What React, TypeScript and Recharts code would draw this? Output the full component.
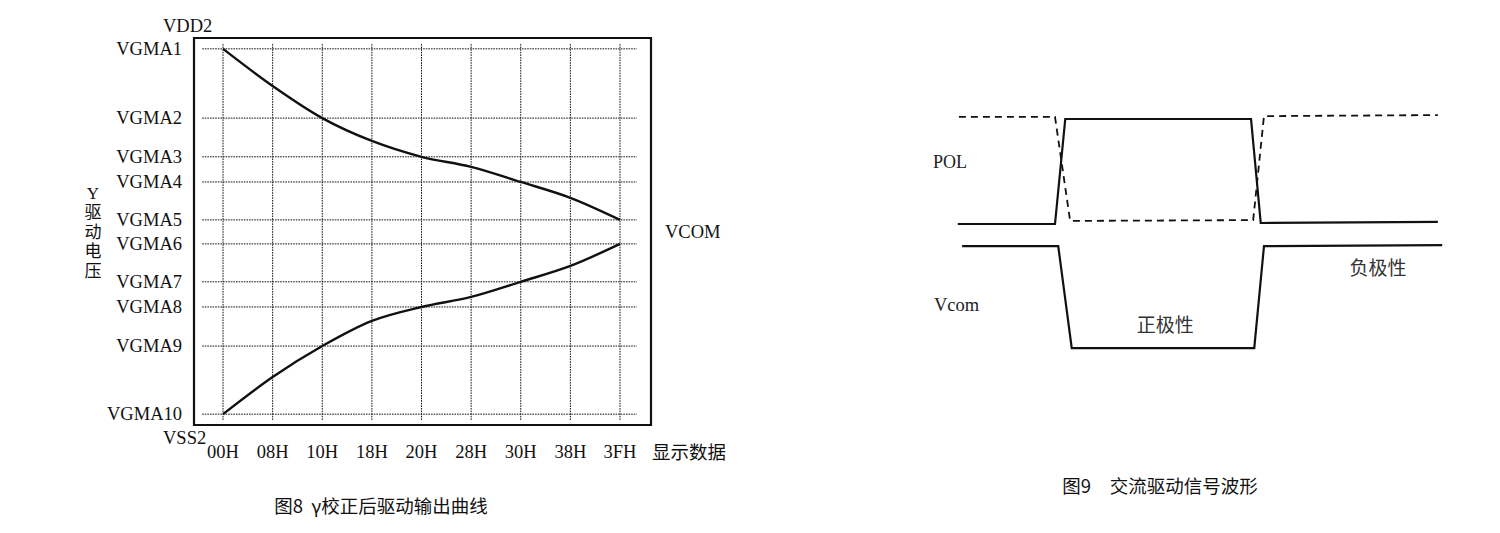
import React from "react";
import {
  LineChart,
  Line,
  XAxis,
  YAxis,
  ReferenceLine,
  ReferenceArea,
  ReferenceDot,
  Label,
} from "recharts";

// Gamma-corrected driver output: display codes and reference levels (VSS2 = 0, VDD2 = 100)
const codes = ["00H", "08H", "10H", "18H", "20H", "28H", "30H", "38H", "3FH"];
const levelNames = ["VGMA1", "VGMA2", "VGMA3", "VGMA4", "VGMA5", "VGMA6", "VGMA7", "VGMA8", "VGMA9", "VGMA10"];
const levelValues = [97.2, 79.3, 69.3, 62.8, 53.0, 46.8, 37.0, 30.5, 20.4, 2.8];
const railNames = ["VSS2", "VDD2"];
const railValues = [0, 100];
const upperCurve = [97.2, 87.6, 79.3, 73.4, 69.3, 66.7, 62.8, 58.7, 53.0];
const lowerCurve = [2.8, 12.4, 20.4, 26.9, 30.5, 33.1, 37.0, 41.1, 46.8];

// AC drive waveforms: time / level pairs for each trace
const polTime = [7.0, 25.0, 26.9, 61.3, 63.1, 95.9];
const polLevel = [52.3, 52.3, 92.7, 92.7, 52.7, 53.1];
const polInvTime = [7.2, 25.0, 27.8, 61.7, 63.7, 95.9];
const polInvLevel = [93.5, 93.5, 53.5, 53.8, 93.8, 94.2];
const vcomTime = [7.8, 25.6, 28.1, 61.9, 63.7, 96.7];
const vcomLevel = [43.8, 43.8, 4.6, 4.6, 43.8, 44.2];

const SERIF = "'Liberation Serif', 'Times New Roman', serif";
const CJK = "'Noto Sans CJK SC', 'Noto Sans', sans-serif";
const INK = "#111";

const gammaData = codes.map((code, i) => ({ i, code, upper: upperCurve[i], lower: lowerCurve[i] }));
const X_MIN = -0.585;
const X_MAX = 8.625;
const GRID_X = [-0.42, 8.34];
const GRID_Y = [1.3, 98.7];
const vcomLevelMid = (levelValues[4] + levelValues[5]) / 2;

const zip = (t: number[], v: number[]) => t.map((x, i) => ({ t: x, v: v[i] }));
const polData = zip(polTime, polLevel);
const polInvData = zip(polInvTime, polInvLevel);
const vcomData = zip(vcomTime, vcomLevel);

function LevelTick(props: any) {
  const { x, y, payload } = props;
  const value = payload.value;
  const rail = railValues.indexOf(value);
  if (rail >= 0) {
    const up = railNames[rail] === "VDD2";
    return (
      <text x={x - 19} y={up ? y - 12 : y + 13} fontFamily={SERIF} fontSize={18.5} fill={INK} dominantBaseline="central">
        {railNames[rail]}
      </text>
    );
  }
  const idx = levelValues.indexOf(value);
  return (
    <text x={x} y={y} textAnchor="end" fontFamily={SERIF} fontSize={18.5} fill={INK} dominantBaseline="central">
      {levelNames[idx]}
    </text>
  );
}

function YTitle() {
  const chars = ["Y", "驱", "动", "电", "压"];
  return (
    <text textAnchor="middle" fill={INK} fontSize={17} fontFamily={SERIF + ", " + CJK}>
      {chars.map((c, k) => (
        <tspan key={c} x={93} y={193 + k * 19.5} dominantBaseline="central">
          {c}
        </tspan>
      ))}
    </text>
  );
}

const gridStyle = { stroke: "#151515", strokeWidth: 1, strokeDasharray: "1.6 1" };

function GammaChart() {
  return (
    <LineChart
      width={760}
      height={480}
      data={gammaData}
      margin={{ top: 38, right: 109, bottom: 1, left: 114 }}
    >
      <XAxis
        dataKey="i"
        type="number"
        domain={[X_MIN, X_MAX]}
        ticks={codes.map((_, i) => i)}
        interval={0}
        tickFormatter={(i: number) => codes[i]}
        axisLine={false}
        tickLine={false}
        tickSize={0}
        tickMargin={20}
        height={54}
        tick={{ fontFamily: SERIF, fontSize: 18.5, fill: INK }}
      >
        <Label value="显示数据" position="right" offset={1} fontFamily={CJK} fontSize={18.5} fill={INK} />
      </XAxis>
      <YAxis
        type="number"
        domain={[0, 100]}
        ticks={[...railValues, ...levelValues]}
        interval={0}
        width={80}
        axisLine={false}
        tickLine={false}
        tickSize={0}
        tickMargin={12}
        tick={(p: any) => <LevelTick {...p} />}
      >
        <Label content={() => <YTitle />} />
      </YAxis>

      {levelValues.map((v) => (
        <ReferenceLine key={"h" + v} segment={[{ x: GRID_X[0], y: v }, { x: GRID_X[1], y: v }]} {...gridStyle} />
      ))}
      {codes.map((c, i) => (
        <ReferenceLine key={"v" + c} segment={[{ x: i, y: GRID_Y[0] }, { x: i, y: GRID_Y[1] }]} {...gridStyle} />
      ))}
      <ReferenceArea x1={X_MIN} x2={X_MAX} y1={0} y2={100} fill="none" stroke={INK} strokeWidth={2.2} />
      <ReferenceLine y={vcomLevelMid} stroke="none">
        <Label value="VCOM" position="right" offset={14} fontFamily={SERIF} fontSize={18.5} fill={INK} />
      </ReferenceLine>

      <Line type="monotone" dataKey="upper" stroke={INK} strokeWidth={2.4} dot={false} isAnimationActive={false} />
      <Line type="monotone" dataKey="lower" stroke={INK} strokeWidth={2.4} dot={false} isAnimationActive={false} />
    </LineChart>
  );
}

function WaveChart() {
  return (
    <LineChart width={580} height={300} margin={{ top: 20, right: 20, bottom: 20, left: 20 }}>
      <XAxis dataKey="t" type="number" domain={[0, 100]} hide allowDataOverflow />
      <YAxis type="number" domain={[0, 100]} hide />
      <Line data={polData} dataKey="v" type="linear" stroke={INK} strokeWidth={2.2} dot={false} isAnimationActive={false} />
      <Line
        data={polInvData}
        dataKey="v"
        type="linear"
        stroke={INK}
        strokeWidth={1.8}
        strokeDasharray="7 5"
        dot={false}
        isAnimationActive={false}
      />
      <Line data={vcomData} dataKey="v" type="linear" stroke={INK} strokeWidth={2.2} dot={false} isAnimationActive={false} />
      <ReferenceDot x={2.2} y={76.2} r={1} fill="none" stroke="none"
        label={{ value: "POL", position: "right", offset: 0, fontFamily: SERIF, fontSize: 18, fill: "#222" }} />
      <ReferenceDot x={2.4} y={21.2} r={1} fill="none" stroke="none"
        label={{ value: "Vcom", position: "right", offset: 0, fontFamily: SERIF, fontSize: 18.5, fill: "#222" }} />
      <ReferenceDot x={45.4} y={13.5} r={1} fill="none" stroke="none"
        label={{ value: "正极性", position: "center", fontFamily: CJK, fontSize: 19, fill: "#333" }} />
      <ReferenceDot x={84.8} y={35.4} r={1} fill="none" stroke="none"
        label={{ value: "负极性", position: "center", fontFamily: CJK, fontSize: 19, fill: "#333" }} />
    </LineChart>
  );
}

const captionStyle: React.CSSProperties = {
  position: "absolute",
  width: 400,
  textAlign: "center",
  fontFamily: CJK,
  fontSize: 18.5,
  lineHeight: "24px",
  color: "#111",
  whiteSpace: "pre",
};

export default function App() {
  return (
    <div style={{ position: "absolute", left: 0, top: 0, width: 1500, height: 533, background: "#fff", overflow: "hidden" }}>
      <div style={{ position: "absolute", left: 0, top: 0 }}>
        <GammaChart />
      </div>
      <div style={{ ...captionStyle, left: 181, top: 493 }}>{"图8  γ校正后驱动输出曲线"}</div>
      <div style={{ position: "absolute", left: 900, top: 80 }}>
        <WaveChart />
      </div>
      <div style={{ ...captionStyle, left: 960, top: 473 }}>{"图9　交流驱动信号波形"}</div>
    </div>
  );
}
